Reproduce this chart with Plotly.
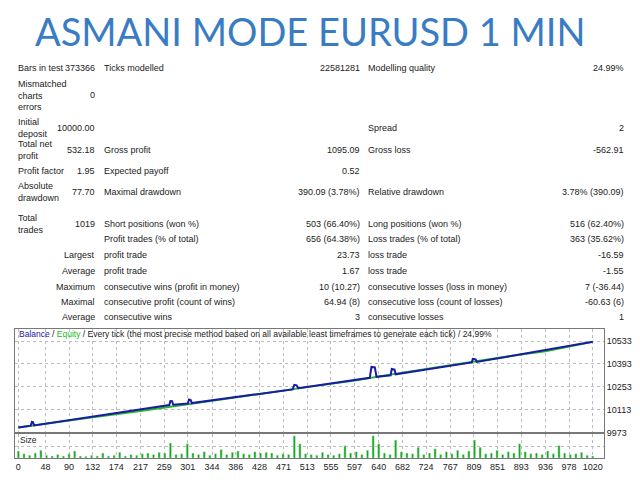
import plotly.graph_objects as go

title = "ASMANI MODE EURUSD 1 MIN"

# report rows: (label1, value1, label2, value2, label3, value3, y_px)
rows = [
    ("Bars in test", "373366", "Ticks modelled", "22581281", "Modelling quality", "24.99%", 69),
    ("Mismatched<br>charts<br>errors", "0", "", "", "", "", 96),
    ("Initial<br>deposit", "10000.00", "", "", "Spread", "2", 129),
    ("Total net<br>profit", "532.18", "Gross profit", "1095.09", "Gross loss", "-562.91", 152),
    ("Profit factor", "1.95", "Expected payoff", "0.52", "", "", 173),
    ("Absolute<br>drawdown", "77.70", "Maximal drawdown", "390.09 (3.78%)", "Relative drawdown", "3.78% (390.09)", 194),
    ("Total<br>trades", "1019", "Short positions (won %)", "503 (66.40%)", "Long positions (won %)", "516 (62.40%)", 226),
    ("", "", "Profit trades (% of total)", "656 (64.38%)", "Loss trades (% of total)", "363 (35.62%)", 242),
    ("", "Largest", "profit trade", "23.73", "loss trade", "-16.59", 258),
    ("", "Average", "profit trade", "1.67", "loss trade", "-1.55", 274),
    ("", "Maximum", "consecutive wins (profit in money)", "10 (10.27)", "consecutive losses (loss in money)", "7 (-36.44)", 290),
    ("", "Maximal", "consecutive profit (count of wins)", "64.94 (8)", "consecutive loss (count of losses)", "-60.63 (6)", 305),
    ("", "Average", "consecutive wins", "3", "consecutive losses", "1", 320),
]

balance_trades = [0, 48, 132, 217, 301, 386, 471, 513, 597, 640, 682, 767, 809, 893, 936, 978, 1020]
balance_values = [10003, 10027, 10066, 10104, 10147, 10189, 10230, 10251, 10292, 10317, 10340, 10385, 10408, 10452, 10471, 10498, 10529]

equity_trades = [0, 22, 24, 26, 28, 268, 270, 273, 275, 301, 303, 306, 308, 487, 490, 494, 497,
                 624, 627, 633, 636, 661, 663, 668, 670, 805, 807, 812, 814, 1020]
equity_values = [10003, 10014, 10037, 10036, 10016, 10141, 10166, 10165, 10143, 10150, 10175, 10172, 10153,
                 10237, 10265, 10262, 10244, 10308, 10375, 10372, 10314, 10324, 10362, 10358, 10330,
                 10403, 10425, 10422, 10406, 10529]

size_trades = list(range(0, 1030, 10))
size_values = [20, 12, 8, 14, 22, 8, 6, 10, 6, 12,
               20, 6, 5, 8, 6, 14, 6, 8, 16, 6,
               10, 8, 12, 14, 10, 16, 14, 42, 10, 12,
               40, 14, 10, 18, 8, 12, 24, 10, 16, 20,
               12, 10, 18, 14, 16, 14, 8, 12, 10, 62,
               40, 12, 10, 8, 16, 10, 8, 12, 34, 14,
               18, 10, 22, 62, 40, 14, 10, 50, 18, 14,
               12, 30, 10, 14, 26, 10, 18, 12, 22, 10,
               20, 50, 30, 12, 14, 22, 10, 18, 14, 40,
               18, 12, 14, 10, 20, 12, 35, 14, 10, 12,
               16, 8, 6]

x_ticks = [0, 48, 90, 132, 174, 217, 259, 301, 344, 386, 428, 471, 513, 555, 597, 640, 682,
           724, 767, 809, 851, 893, 936, 978, 1020]
y_ticks = [9973, 10113, 10253, 10393, 10533]

# the page puts an 8px margin around the figure
W, H, OFF = 624, 464, 8


def px_x(px):
    return (px - OFF) / W


def px_y(py):
    return 1 - (py - OFF) / H


fig = go.Figure()
fig.add_trace(go.Scatter(x=balance_trades, y=balance_values, mode="lines",
                         line=dict(color="#22bb22", width=2), xaxis="x", yaxis="y"))
fig.add_trace(go.Scatter(x=equity_trades, y=equity_values, mode="lines",
                         line=dict(color="#1a1aa8", width=2), xaxis="x", yaxis="y"))
fig.add_trace(go.Bar(x=size_trades, y=size_values, marker_color="#11aa11", width=4,
                     xaxis="x2", yaxis="y2"))

FONT = "Liberation Sans"
tf = dict(family=FONT, size=9, color="#222")
grid = dict(showgrid=True, gridcolor="#bbbbbb", griddash="dot", gridwidth=1,
            showline=True, linecolor="#777", mirror=True, zeroline=False)
fig.update_layout(
    width=W, height=H, margin=dict(l=0, r=0, t=0, b=0),
    paper_bgcolor="white", plot_bgcolor="white", showlegend=False,
    xaxis=dict(domain=[px_x(15), px_x(605)], range=[-6, 1040], tickvals=x_ticks, showticklabels=False,
               anchor="y", **grid),
    yaxis=dict(domain=[px_y(437), px_y(332)], range=[9973, 10611], tickvals=y_ticks, side="right",
               tickformat="d", tickfont=tf, anchor="x", **grid),
    xaxis2=dict(domain=[px_x(15), px_x(605)], range=[-6, 1040], tickvals=x_ticks, tickfont=tf,
                anchor="y2", ticks="", **grid),
    yaxis2=dict(domain=[px_y(463), px_y(439)], range=[0, 66], tickvals=[33], showticklabels=False,
                anchor="x2", **grid),
)

fig.add_annotation(x=px_x(310), y=px_y(31), xref="paper", yref="paper", text=title, showarrow=False,
                   xanchor="center", yanchor="middle",
                   font=dict(family="Lato", size=38, color="#3a7cc4"))

col_x = [(16, "left"), (97, "right"), (102, "left"), (363, "right"), (367, "left"), (627, "right")]
for r in rows:
    for i, (px, al) in enumerate(col_x):
        if not r[i]:
            continue
        fig.add_annotation(x=px_x(px), y=px_y(r[6]), xref="paper", yref="paper", text=r[i],
                           showarrow=False, xanchor=al, yanchor="middle", align="left",
                           font=dict(family=FONT, size=9, color="#222"))

fig.add_annotation(x=px_x(17), y=px_y(338), xref="paper", yref="paper", showarrow=False,
                   xanchor="left", yanchor="middle", font=dict(family=FONT, size=8.5, color="#222"),
                   text="<span style='color:#1a1aa8'>Balance</span> / <span style='color:#22bb22'>Equity</span>"
                        " / Every tick (the most precise method based on all available least timeframes to generate each tick) / 24.99%")
fig.add_annotation(x=px_x(18), y=px_y(445), xref="paper", yref="paper", text="Size", showarrow=False,
                   xanchor="left", yanchor="middle", font=dict(family=FONT, size=8.5, color="#222"))

fig.write_html("out.html")
